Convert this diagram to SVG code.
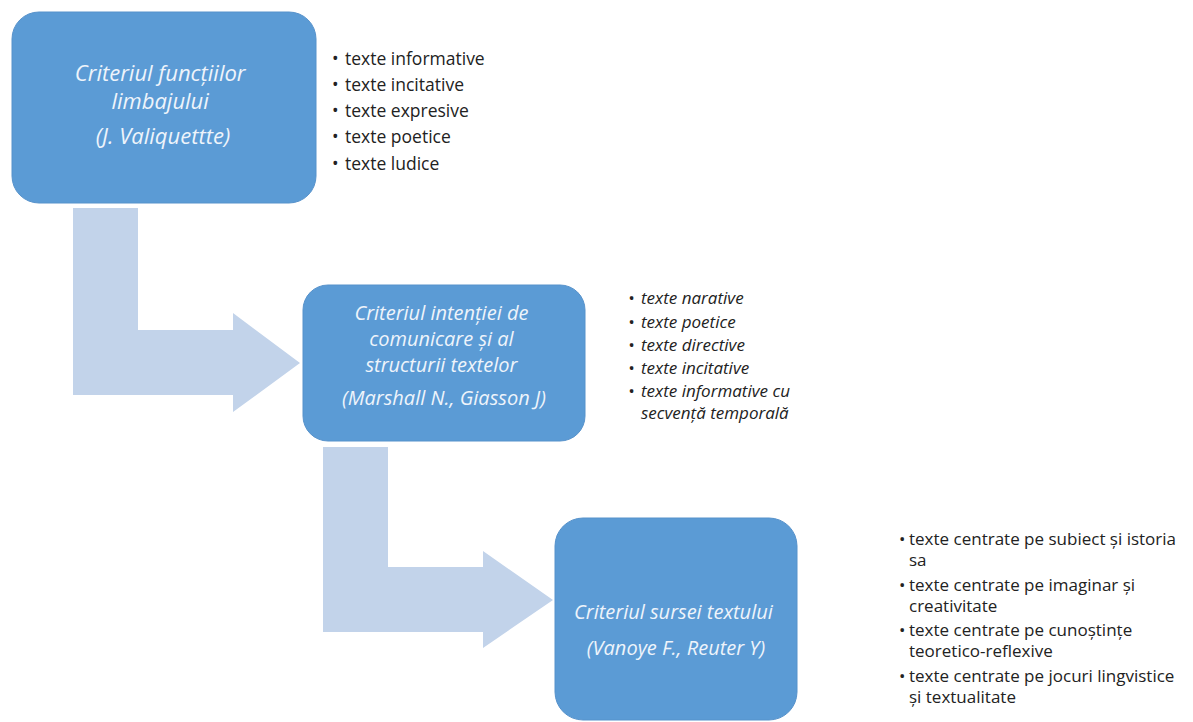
<svg xmlns="http://www.w3.org/2000/svg" width="1193" height="722" viewBox="0 0 1193 722">
  <style>
    .box { fill: #5B9BD5; stroke: #5792CB; stroke-width: 1; }
    .arrow { fill: #C2D3EA; }
    .title { font-family: "Open Sans", "Noto Sans", sans-serif; font-style: italic; fill: #EEF4FB; text-anchor: middle; }
    .list { font-family: "Open Sans", "Noto Sans", sans-serif; fill: #222222; }
    .it { font-style: italic; }
  </style>
  <rect width="1193" height="722" fill="#FFFFFF"/>
  <g id="connectors">
    <polygon class="arrow" points="73,208 138,208 138,330 233,330 233,313 300,363 233,412 233,395 73,395"/>
    <polygon class="arrow" points="323,447 388,447 388,567 483,567 483,551 553,600 483,648 483,632 323,632"/>
  </g>
  <g id="node1">
    <rect class="box" x="12" y="12" width="304" height="191" rx="27" ry="27"/>
    <text class="title" font-size="22">
      <tspan x="163" y="81">Criteriul funcțiilor</tspan>
      <tspan x="163" y="109">limbajului</tspan>
      <tspan x="163" y="144">(J. Valiquettte)</tspan>
    </text>
  </g>
  <g id="list1" class="list" font-size="17.5">
    <text x="332" y="65">•</text><text x="345" y="65">texte informative</text>
    <text x="332" y="91">•</text><text x="345" y="91">texte incitative</text>
    <text x="332" y="117">•</text><text x="345" y="117">texte expresive</text>
    <text x="332" y="143">•</text><text x="345" y="143">texte poetice</text>
    <text x="332" y="170">•</text><text x="345" y="170">texte ludice</text>
  </g>
  <g id="node2">
    <rect class="box" x="303" y="285" width="282" height="156" rx="25" ry="25"/>
    <text class="title" font-size="20">
      <tspan x="444" y="320">Criteriul intenției de</tspan>
      <tspan x="444" y="346">comunicare și al</tspan>
      <tspan x="444" y="372">structurii textelor</tspan>
      <tspan x="444" y="405">(Marshall N., Giasson J)</tspan>
    </text>
  </g>
  <g id="list2" class="list it" font-size="17">
    <text x="628" y="304">•</text><text x="641" y="304">texte narative</text>
    <text x="628" y="328">•</text><text x="641" y="328">texte poetice</text>
    <text x="628" y="351">•</text><text x="641" y="351">texte directive</text>
    <text x="628" y="374">•</text><text x="641" y="374">texte incitative</text>
    <text x="628" y="397">•</text><text x="641" y="397">texte informative cu</text>
    <text x="641" y="419">secvență temporală</text>
  </g>
  <g id="node3">
    <rect class="box" x="555" y="518" width="242" height="202" rx="28" ry="28"/>
    <text class="title" font-size="20">
      <tspan x="676" y="619">Criteriul sursei textului</tspan>
      <tspan x="676" y="655">(Vanoye F., Reuter Y)</tspan>
    </text>
  </g>
  <g id="list3" class="list" font-size="17">
    <text x="899" y="545">•</text><text x="909" y="545">texte centrate pe subiect și istoria</text>
    <text x="909" y="566">sa</text>
    <text x="899" y="591">•</text><text x="909" y="591">texte centrate pe imaginar și</text>
    <text x="909" y="612">creativitate</text>
    <text x="899" y="636">•</text><text x="909" y="636">texte centrate pe cunoștințe</text>
    <text x="909" y="657">teoretico-reflexive</text>
    <text x="899" y="682">•</text><text x="909" y="682">texte centrate pe jocuri lingvistice</text>
    <text x="909" y="703">și textualitate</text>
  </g>
</svg>
